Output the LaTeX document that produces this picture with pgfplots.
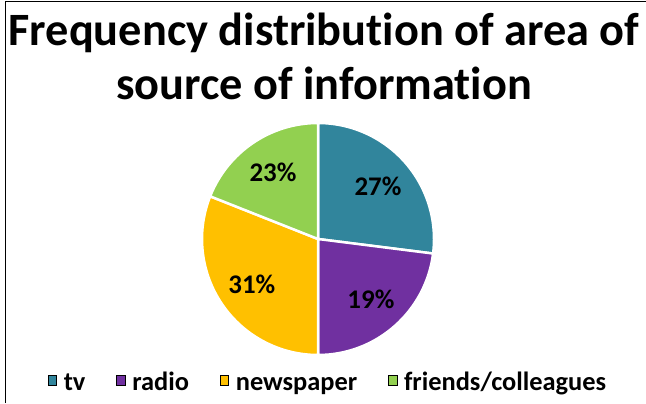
\documentclass[border=0pt]{standalone}
\usepackage{fontspec}
\setmainfont{Carlito}[Ligatures=NoCommon]
\usepackage{pgfplots}
\usepackage{pgfplotstable}
\pgfplotsset{compat=1.18}
\definecolor{ctv}{HTML}{31859C}
\definecolor{cradio}{HTML}{7030A0}
\definecolor{cnews}{HTML}{FFC000}
\definecolor{cfriends}{HTML}{92D050}
\pgfplotstableread{
name value label col
tv 27 27 ctv
radio 23 19 cradio
newspaper 31 31 cnews
friends 19 23 cfriends
}\piedata
\begin{document}
\begin{tikzpicture}[x=1bp,y=1bp]
\useasboundingbox (0,0) rectangle (646,403);
\def\cum{0}
\foreach \i in {0,...,3}{
  \pgfplotstablegetelem{\i}{value}\of\piedata
  \let\v\pgfplotsretval
  \pgfmathsetmacro\a{90-3.6*\cum}
  \pgfmathsetmacro\b{90-3.6*(\cum+\v)}
  \pgfmathsetmacro\m{(\a+\b)/2}
  \expandafter\xdef\csname pA\i\endcsname{\a}
  \expandafter\xdef\csname pB\i\endcsname{\b}
  \expandafter\xdef\csname pM\i\endcsname{\m}
  \pgfplotstablegetelem{\i}{label}\of\piedata
  \expandafter\xdef\csname pL\i\endcsname{\pgfplotsretval}
  \pgfplotstablegetelem{\i}{col}\of\piedata
  \expandafter\xdef\csname pC\i\endcsname{\pgfplotsretval}
  \pgfmathsetmacro\nc{\cum+\v}
  \global\let\cum\nc
}
\begin{axis}[
  at={(0,0)}, anchor=south west,
  scale only axis, width=646bp, height=403bp,
  xmin=0, xmax=646, ymin=0, ymax=403,
  hide axis, clip=false,
  legend columns=4,
  legend style={draw=none, fill=none, at={(axis cs:328,19)}, anchor=base,
    font=\fontsize{26.5}{29}\selectfont\bfseries,
    nodes={text height=19bp, text depth=6bp},
    /tikz/every odd column/.style={column sep=5bp},
    /tikz/every even column/.style={column sep=29bp},
    inner sep=0pt, row sep=0pt},
  legend image code/.code={\fill[#1] (0,-1bp) rectangle (8.5bp,8.5bp);},
]
\addlegendimage{fill=ctv}
\addlegendentry{tv}
\addlegendimage{fill=cradio}
\addlegendentry{radio}
\addlegendimage{fill=cnews}
\addlegendentry{newspaper}
\addlegendimage{fill=cfriends}
\addlegendentry{friends/colleagues}
\pgfplotsinvokeforeach{0,...,3}{
  \fill[draw=white, line width=2.5bp, fill=\csname pC#1\endcsname]
    (axis cs:318,164) -- ++(\csname pA#1\endcsname:116) 
    arc[start angle=\csname pA#1\endcsname, end angle=\csname pB#1\endcsname, radius=116] -- cycle;
}
\pgfplotsinvokeforeach{0,...,3}{
  \path (axis cs:318,164) ++(\csname pM#1\endcsname:80)
    node[font=\fontsize{27}{30}\selectfont\bfseries] {\csname pL#1\endcsname\%};
}
\node[font=\fontsize{46.5}{55}\selectfont\bfseries, align=center, anchor=base]
  at (axis cs:324,303) {Frequency distribution of area of\\source of information};
\draw[line width=1bp] (axis cs:5,0) -- (axis cs:5,401) -- (axis cs:646,401);
\end{axis}
\end{tikzpicture}
\end{document}
